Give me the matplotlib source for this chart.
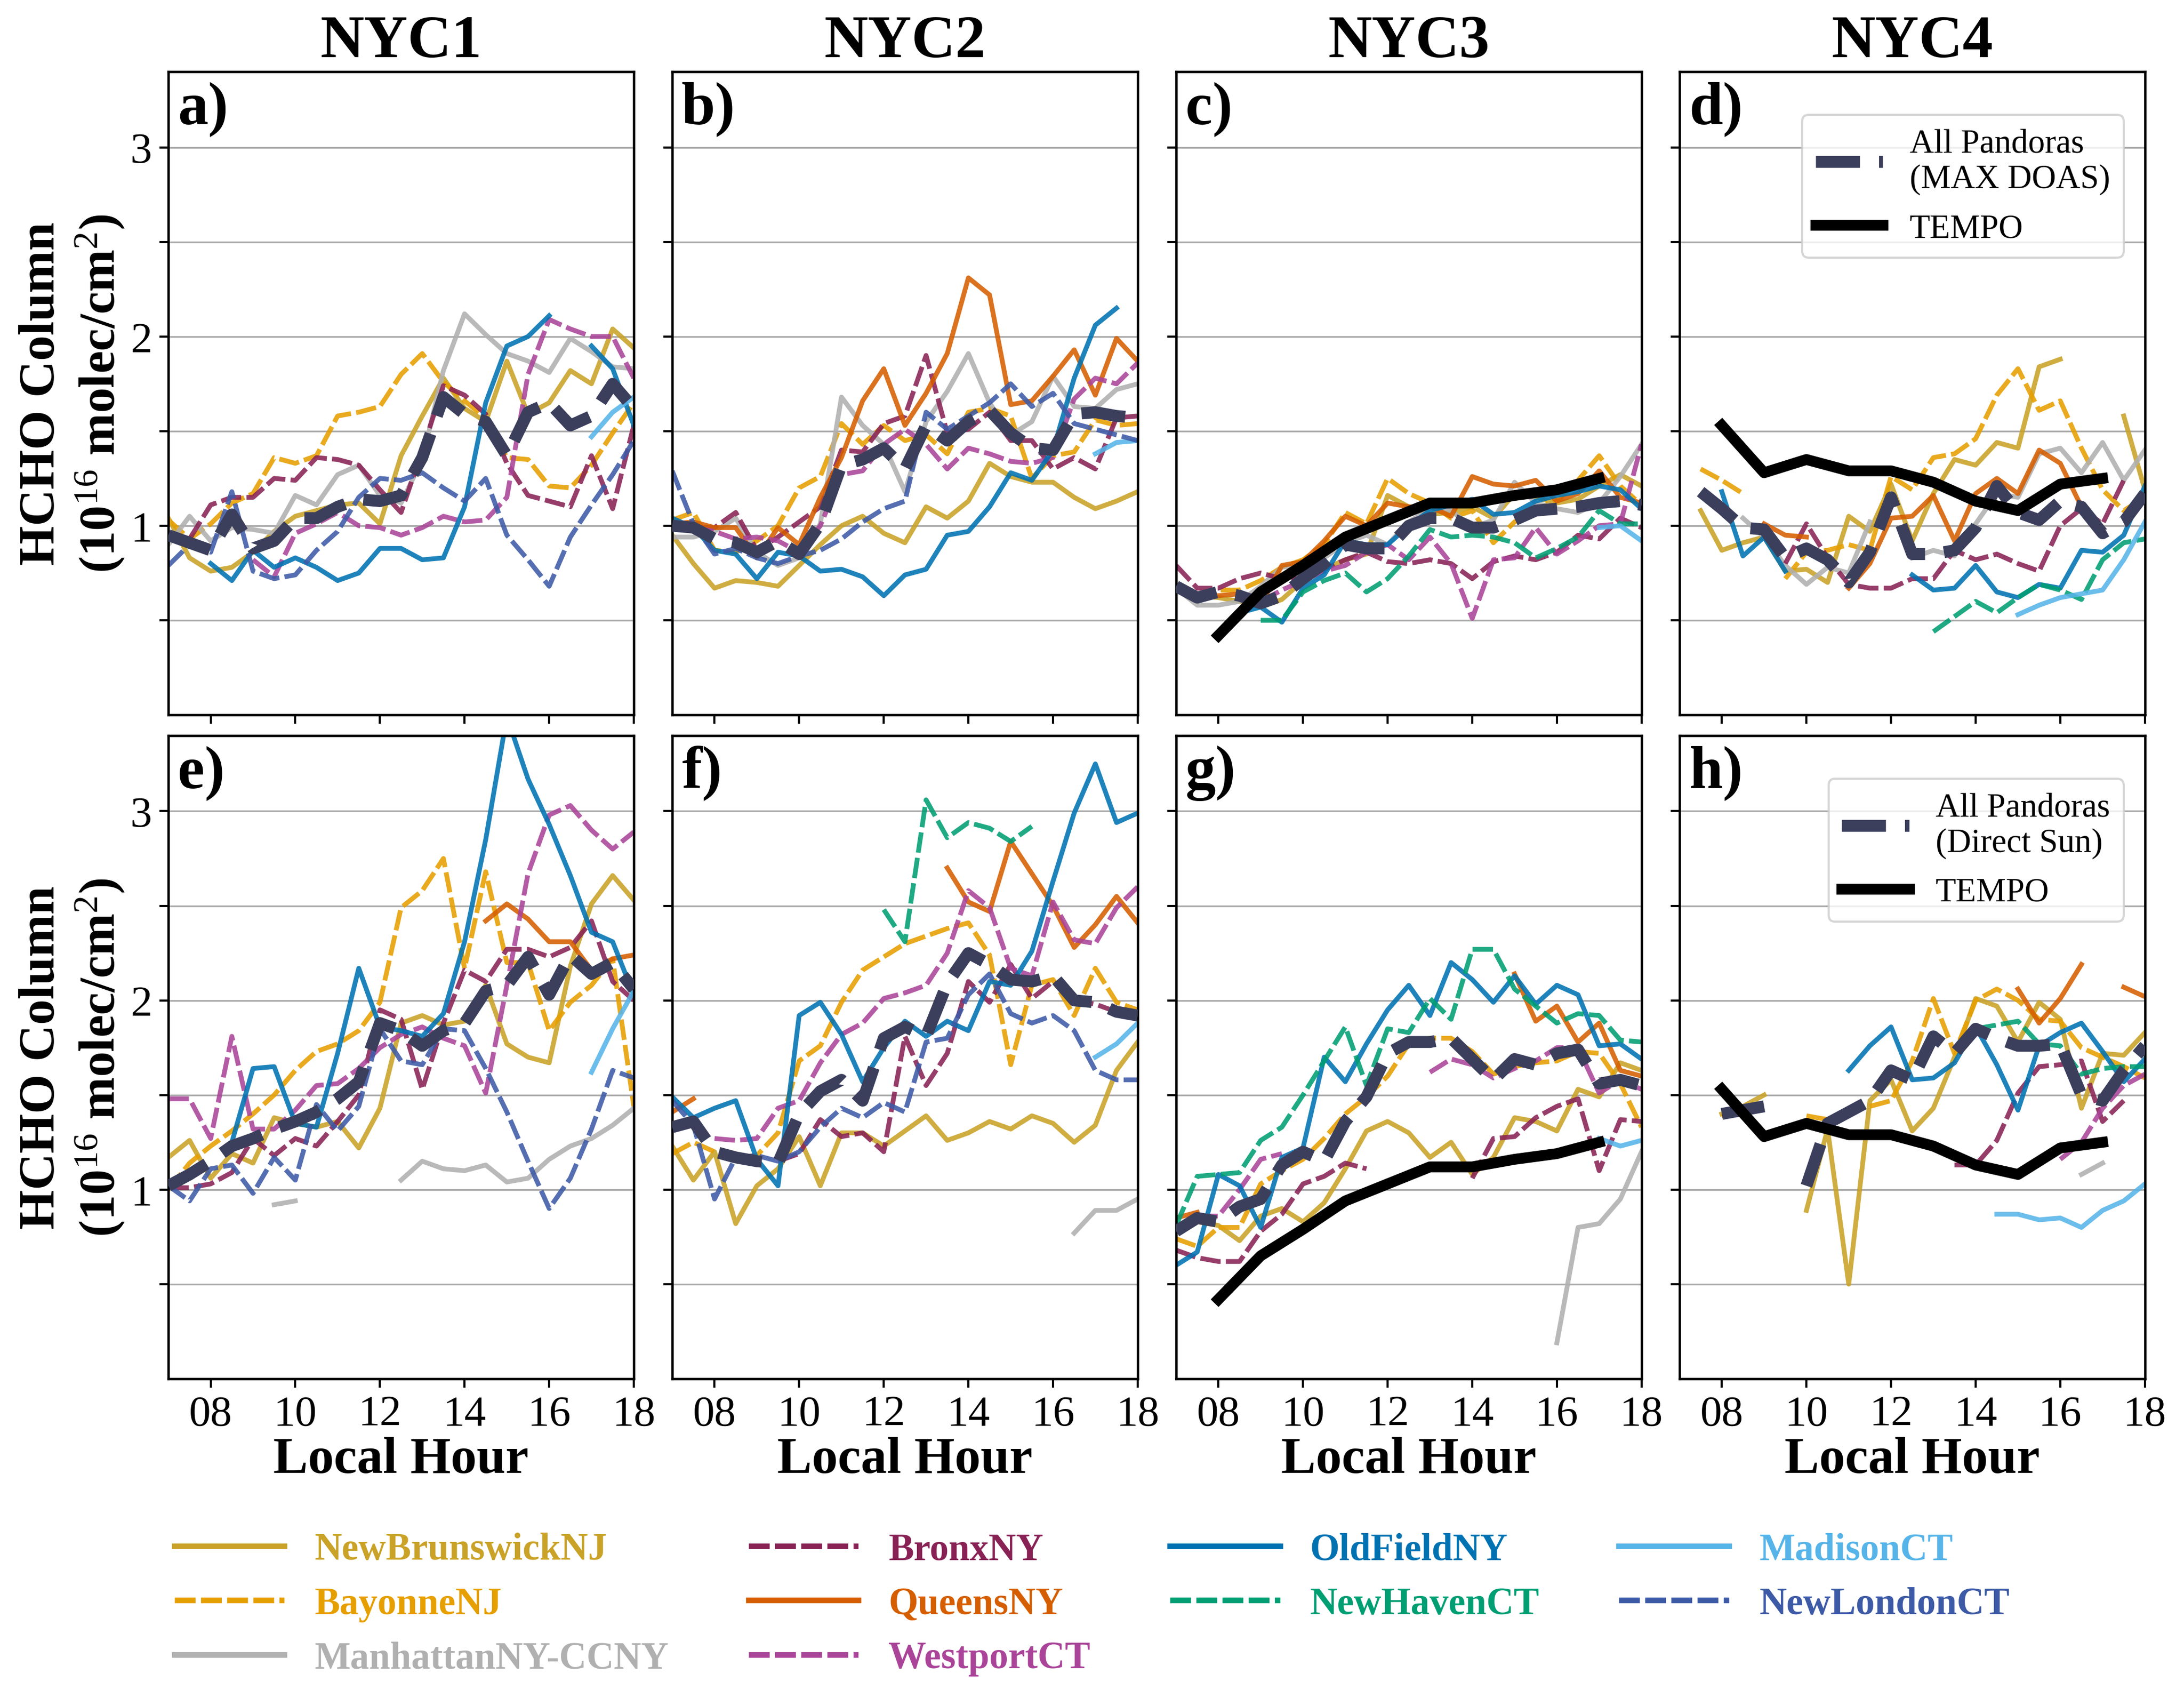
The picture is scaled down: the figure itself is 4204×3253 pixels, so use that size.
import numpy as np
import matplotlib
matplotlib.use('Agg')
import matplotlib.pyplot as plt
from matplotlib.lines import Line2D

plt.rcParams['font.family'] = 'serif'
plt.rcParams['font.serif'] = ['Liberation Serif', 'DejaVu Serif']
plt.rcParams['mathtext.fontset'] = 'custom'
plt.rcParams['mathtext.rm'] = 'Liberation Serif'
plt.rcParams['mathtext.it'] = 'Liberation Serif:italic'
plt.rcParams['mathtext.bf'] = 'Liberation Serif:bold'

N = np.nan
HOURS = [7.0, 7.5, 8.0, 8.5, 9.0, 9.5, 10.0, 10.5, 11.0, 11.5, 12.0, 12.5,
         13.0, 13.5, 14.0, 14.5, 15.0, 15.5, 16.0, 16.5, 17.0, 17.5, 18.0]
TEMPO_HOURS = [8, 9, 10, 11, 12, 13, 14, 15, 16, 17]
XTICKS = [8, 10, 12, 14, 16, 18]
XTICKLABELS = ['08', '10', '12', '14', '16', '18']
YTICKS = [0.5, 1.0, 1.5, 2.0, 2.5, 3.0]
YTICKLABELS = ['', '1', '', '2', '', '3']
REGIONS = ['NYC1', 'NYC2', 'NYC3', 'NYC4']
PANEL_LABELS = ['a)', 'b)', 'c)', 'd)', 'e)', 'f)', 'g)', 'h)']

STATIONS = ['NewBrunswickNJ', 'BayonneNJ', 'ManhattanNY-CCNY', 'BronxNY', 'QueensNY',
            'WestportCT', 'OldFieldNY', 'NewHavenCT', 'MadisonCT', 'NewLondonCT']
COLORS = ['#C9A227', '#E69F00', '#B0B0B0', '#882255', '#D55E00',
          '#AA4499', '#0072B2', '#009E73', '#56B4E9', '#3D5AA6']
DASHED = [False, True, False, True, False, True, False, True, False, True]

# ---------------- Panel a (NYC1, MAX-DOAS) ----------------
a_newbrunswick = [1.04, 0.83, 0.76, 0.78, 0.86, 0.97, 1.05, 1.08, 1.11, 1.12, 1.01, 1.37, 1.58, 1.78, 1.62, 1.55, 1.87, 1.59, 1.65, 1.82, 1.75, 2.04, 1.94]
a_bayonne = [1.03, 0.93, 1.01, 1.12, 1.17, 1.36, 1.33, 1.37, 1.58, 1.60, 1.63, 1.80, 1.91, 1.76, 1.66, 1.57, 1.36, 1.35, 1.21, 1.20, 1.32, 1.49, 1.65]
a_manhattan = [0.90, 1.05, 0.92, 0.99, 0.98, 0.96, 1.16, 1.11, 1.27, 1.32, 1.16, 1.12, 1.35, 1.82, 2.12, 2.01, 1.91, 1.87, 1.81, 1.99, 1.92, 1.84, 1.83]
a_bronx = [N, 0.93, 1.11, 1.15, 1.15, 1.25, 1.24, 1.36, 1.35, 1.32, 1.19, 1.07, 1.40, 1.74, 1.69, 1.59, 1.33, 1.16, 1.13, 1.10, 1.37, 1.09, 1.53]
a_queens = [N] * 23
a_westport = [N, N, N, N, 0.82, 0.73, 0.96, 1.01, 1.07, 1.00, 0.99, 0.95, 0.99, 1.05, 1.02, 1.03, 1.15, 1.80, 2.09, 2.04, 2.00, 2.00, 1.78]
a_oldfield = [N, N, 0.80, 0.71, 0.87, 0.78, 0.83, 0.78, 0.71, 0.75, 0.88, 0.88, 0.82, 0.83, 1.10, 1.65, 1.95, 2.00, 2.11, N, 1.95, 1.83, 1.53]
a_newhaven = [N] * 23
a_madison = [N] * 20 + [1.47, 1.60, 1.68]
a_newlondon = [0.79, 0.90, 0.86, 1.18, 0.76, 0.72, 0.74, 0.87, 0.97, 1.15, 1.25, 1.24, 1.28, 1.20, 1.13, 1.25, 0.95, 0.82, 0.68, 0.94, 1.11, 1.27, 1.45]
a_mean = [0.95, 0.91, 0.87, 1.06, 0.88, 0.92, 1.04, 1.04, 1.10, 1.14, 1.13, 1.16, 1.36, 1.68, 1.59, 1.55, 1.37, 1.60, 1.65, 1.53, 1.58, 1.75, 1.62]

# ---------------- Panel b (NYC2, MAX-DOAS) ----------------
b_newbrunswick = [0.95, 0.80, 0.67, 0.71, 0.70, 0.68, 0.79, 0.90, 1.00, 1.05, 0.96, 0.91, 1.10, 1.04, 1.13, 1.33, 1.26, 1.23, 1.23, 1.15, 1.09, 1.13, 1.18]
b_bayonne = [1.03, 1.07, 0.87, 0.86, 0.92, 1.00, 1.20, 1.26, 1.54, 1.43, 1.53, 1.45, 1.48, 1.38, 1.60, 1.62, 1.58, 1.25, 1.37, 1.39, 1.56, 1.53, 1.54]
b_manhattan = [0.94, 0.94, 0.97, 1.04, 0.86, 0.79, 0.83, 1.01, 1.68, 1.53, 1.43, 1.18, 1.55, 1.71, 1.91, 1.65, 1.48, 1.55, 1.79, 1.63, 1.62, 1.72, 1.75]
b_bronx = [1.00, 0.99, 0.99, 1.07, 0.87, 0.94, 1.02, 1.10, 1.40, 1.39, 1.54, 1.58, 1.90, 1.49, 1.51, 1.60, 1.45, 1.45, 1.30, 1.36, 1.30, 1.57, 1.58]
b_queens = [1.01, 1.02, 0.99, 0.99, 0.83, 0.99, 0.90, 1.15, 1.36, 1.66, 1.83, 1.53, 1.70, 1.91, 2.31, 2.22, 1.64, 1.66, 1.79, 1.93, 1.69, 1.99, 1.87]
b_westport = [N, 0.99, 0.97, 0.93, 0.94, 0.92, 0.86, 1.00, 1.27, 1.29, 1.43, 1.51, 1.43, 1.30, 1.41, 1.38, 1.34, 1.33, 1.36, 1.67, 1.78, 1.75, 1.86]
b_oldfield = [1.04, 0.99, 0.87, 0.85, 0.72, 0.86, 0.84, 0.76, 0.77, 0.73, 0.63, 0.74, 0.77, 0.95, 0.97, 1.10, 1.28, 1.24, 1.40, 1.78, 2.06, 2.15, N]
b_newhaven = [N] * 23
b_madison = [N] * 20 + [1.38, 1.44, 1.45]
b_newlondon = [1.29, 1.01, 0.85, 0.88, 0.83, 0.80, 0.84, 0.87, 0.93, 1.02, 1.09, 1.13, 1.60, 1.51, 1.58, 1.65, 1.75, 1.63, 1.70, 1.54, 1.51, 1.48, 1.45]
b_mean = [1.00, 0.99, 0.93, 0.91, 0.86, 0.92, 0.85, 1.01, 1.32, 1.35, 1.41, 1.30, 1.53, 1.45, 1.55, 1.61, 1.49, 1.41, 1.40, 1.59, 1.60, 1.58, 1.57]

# ---------------- Panel c (NYC3, MAX-DOAS) ----------------
c_newbrunswick = [0.67, 0.63, 0.62, 0.60, 0.57, 0.61, 0.71, 0.77, 0.82, 0.85, 1.16, 1.10, 1.06, 1.07, 1.10, 1.04, 1.17, 1.15, 1.12, 1.14, 1.21, 1.27, 1.21]
c_bayonne = [0.69, 0.61, 0.66, 0.66, 0.71, 0.78, 0.82, 0.90, 1.07, 1.01, 1.25, 1.17, 1.12, 1.04, 1.08, 0.91, 1.02, 1.09, 1.13, 1.24, 1.37, 1.21, 1.11]
c_manhattan = [0.67, 0.58, 0.58, 0.60, 0.68, 0.78, 0.80, 0.83, 0.91, 0.95, 0.90, 1.02, 1.09, 1.08, 0.99, 1.03, 1.23, 1.12, 1.09, 1.07, 1.12, 1.26, 1.43]
c_bronx = [0.79, 0.67, 0.67, 0.72, 0.75, 0.72, 0.72, 0.77, 0.82, 0.86, 0.81, 0.80, 0.82, 0.80, 0.72, 0.81, 0.84, 0.82, 0.86, 0.95, 0.93, 1.04, 0.99]
c_queens = [0.68, 0.62, 0.63, 0.64, 0.58, 0.79, 0.81, 0.92, 1.05, 1.00, 1.12, 1.10, 1.10, 1.05, 1.26, 1.22, 1.21, 1.24, 1.13, 1.17, 1.29, 1.15, 1.12]
c_westport = [N, N, N, N, 0.60, 0.66, 0.71, 0.76, 0.79, 0.86, 0.90, 0.82, 0.94, 0.80, 0.51, 0.82, 0.83, 0.99, 0.85, 0.92, 1.00, 1.01, 1.43]
c_oldfield = [N, N, N, 0.54, 0.57, 0.49, 0.67, 0.74, 0.92, 0.90, 0.90, 1.00, 1.08, 1.11, 1.14, 1.06, 1.07, 1.13, 1.16, 1.18, 1.21, 1.19, 1.09]
c_newhaven = [N, N, N, N, 0.50, 0.50, 0.65, 0.71, 0.75, 0.65, 0.72, 0.84, 0.98, 0.94, 0.95, 0.94, 0.91, 0.83, 0.88, 0.94, 1.08, 1.01, 1.01]
c_madison = [N] * 20 + [0.99, 1.00, 0.92]
c_newlondon = [N] * 23
c_mean = [0.68, 0.62, 0.65, 0.63, 0.59, 0.63, 0.72, 0.80, 0.90, 0.88, 0.88, 1.00, 1.04, 1.04, 0.99, 0.99, 1.03, 1.08, 1.09, 1.10, 1.12, 1.13, 1.11]

# ---------------- Panel d (NYC4, MAX-DOAS) ----------------
d_newbrunswick = [N, 1.08, 0.87, 0.91, 0.94, 0.76, 0.77, 0.70, 1.05, 0.97, 1.22, 0.92, 1.17, 1.35, 1.32, 1.44, 1.41, 1.84, 1.88, N, N, 1.58, 1.19]
d_bayonne = [N, 1.30, 1.24, 1.17, N, 0.72, 0.86, 0.87, 0.90, 0.87, 1.26, 1.19, 1.36, 1.38, 1.46, 1.69, 1.83, 1.61, 1.66, 1.41, 1.19, 1.08, 1.15]
d_manhattan = [N, N, N, 1.04, 0.94, 0.79, 0.69, 0.78, 0.75, 1.02, N, 0.83, 0.87, 0.84, 1.01, 1.17, 1.15, 1.38, 1.41, 1.28, 1.44, 1.24, 1.40]
d_bronx = [N, N, N, N, N, 0.80, 1.01, 0.83, 0.69, 0.67, 0.67, 0.72, 0.72, 0.87, 0.82, 0.85, 0.80, 0.76, 1.00, 1.09, 1.01, 1.24, N]
d_queens = [N, N, N, N, 1.01, 0.95, 0.94, N, 0.67, 0.80, 1.04, 1.05, 1.16, 0.92, 1.17, 1.25, 1.17, 1.40, 1.33, 1.10, N, N, N]
d_westport = [N] * 23
d_oldfield = [N, N, 1.18, 0.84, 0.94, 0.76, N, N, N, N, N, 0.74, 0.66, 0.67, 0.79, 0.65, 0.62, 0.69, 0.67, 0.87, 0.86, 0.95, 1.21]
d_newhaven = [N] * 12 + [0.44, 0.52, 0.60, 0.54, 0.62, 0.69, 0.66, 0.61, 0.82, 0.91, 0.93]
d_madison = [N] * 16 + [0.53, 0.58, 0.62, 0.64, 0.66, 0.82, 1.02]
d_newlondon = [N] * 23
d_mean = [N, 1.18, 1.09, 0.99, 0.98, 0.83, 0.88, 0.82, 0.70, 0.86, 1.15, 0.85, 0.85, 0.87, 0.99, 1.21, 1.07, 1.03, 1.13, 1.10, 0.96, 1.02, 1.17]

# ---------------- Panel e (NYC1, Direct Sun) ----------------
e_newbrunswick = [1.17, 1.26, 1.06, 1.19, 1.14, 1.38, 1.35, 1.33, 1.36, 1.22, 1.43, 1.88, 1.92, 1.87, 1.89, 2.08, 1.77, 1.70, 1.67, 2.18, 2.51, 2.66, 2.53]
e_bayonne = [1.00, 1.14, 1.23, 1.31, 1.40, 1.50, 1.63, 1.73, 1.77, 1.84, 1.99, 2.49, 2.58, 2.75, 2.17, 2.68, 2.20, 2.20, 1.84, 1.99, 2.08, 2.22, 1.44]
e_manhattan = [N, N, N, N, N, 0.92, 0.94, N, N, N, N, 1.05, 1.15, 1.11, 1.10, 1.13, 1.04, 1.06, 1.16, 1.23, 1.27, 1.34, 1.43]
e_bronx = [1.01, 1.01, 1.03, 1.09, 1.27, 1.18, 1.27, 1.23, 1.36, 1.50, 1.95, 1.90, 1.53, 1.88, 2.16, 2.10, 2.27, 2.27, 2.23, 2.28, 2.42, 2.10, 2.00]
e_queens = [N] * 15 + [2.42, 2.51, 2.43, 2.31, 2.31, 2.16, 2.22, 2.24]
e_westport = [1.48, 1.48, 1.27, 1.81, 1.32, 1.32, 1.42, 1.55, 1.56, 1.64, 1.75, 1.82, 1.86, 1.80, 1.76, 1.51, 2.08, 2.67, 2.98, 3.03, 2.90, 2.80, 2.89]
e_oldfield = [N, N, N, 1.25, 1.64, 1.65, 1.35, 1.33, 1.72, 2.17, 1.86, 1.84, 1.81, 1.93, 2.31, 2.85, 3.50, 3.17, 2.93, 2.66, 2.36, 2.31, 2.03]
e_newhaven = [N] * 23
e_madison = [N] * 20 + [1.62, 1.85, 2.05]
e_newlondon = [1.02, 0.94, 1.11, 1.13, 0.98, 1.17, 1.05, 1.45, 1.31, 1.44, 1.85, 1.68, 1.66, 1.85, 1.84, 1.64, 1.41, 1.15, 0.90, 1.06, 1.32, 1.63, 1.59]
e_mean = [1.02, 1.08, 1.15, 1.23, 1.27, 1.32, 1.36, 1.41, 1.48, 1.57, 1.88, 1.84, 1.76, 1.84, 1.88, 2.05, 2.08, 2.23, 2.03, 2.24, 2.14, 2.20, 2.06]

# ---------------- Panel f (NYC2, Direct Sun) ----------------
f_newbrunswick = [1.23, 1.05, 1.20, 0.82, 1.02, 1.11, 1.28, 1.02, 1.30, 1.30, 1.23, 1.31, 1.39, 1.26, 1.30, 1.36, 1.32, 1.39, 1.35, 1.25, 1.34, 1.63, 1.78]
f_bayonne = [1.19, 1.25, 1.20, 1.17, 1.18, 1.30, 1.68, 1.76, 1.99, 2.16, 2.23, 2.30, 2.34, 2.38, 2.41, 2.24, 1.66, 2.08, 2.11, 1.92, 2.17, 1.99, 1.95]
f_manhattan = [N] * 19 + [0.77, 0.89, 0.89, 0.95]
f_bronx = [N, N, N, N, N, 1.15, 1.19, 1.37, 1.28, 1.30, 1.20, 1.81, 1.55, 1.72, 2.10, 1.99, 2.19, 2.01, 2.10, 2.00, 1.98, 1.94, 1.91]
f_queens = [1.41, 1.48, N, N, N, N, N, N, N, N, N, N, N, 2.70, 2.52, 2.47, 2.84, 2.67, 2.50, 2.28, 2.40, 2.55, 2.41]
f_westport = [N, N, 1.27, 1.26, 1.27, 1.43, 1.47, 1.67, 1.82, 1.88, 2.01, 2.04, 2.08, 2.25, 2.58, 2.49, 2.17, 2.13, 2.52, 2.32, 2.30, 2.49, 2.60]
f_oldfield = [1.49, 1.38, 1.43, 1.47, 1.16, 1.02, 1.92, 1.99, 1.82, 1.57, 1.75, 1.89, 1.81, 1.89, 1.84, 2.10, 2.08, 2.26, 2.63, 2.99, 3.25, 2.94, 2.99]
f_newhaven = [N] * 10 + [2.48, 2.31, 3.06, 2.86, 2.94, 2.91, 2.84, 2.92] + [N] * 5
f_madison = [N] * 20 + [1.70, 1.77, 1.88]
f_newlondon = [1.47, 1.34, 0.95, 1.17, 1.18, 1.15, 1.20, 1.33, 1.43, 1.38, 1.46, 1.41, 1.78, 1.80, 2.03, 2.14, 1.93, 1.88, 1.92, 1.84, 1.63, 1.58, 1.58]
f_mean = [1.33, 1.36, 1.20, 1.17, 1.15, 1.14, 1.40, 1.52, 1.58, 1.47, 1.80, 1.86, 1.81, 2.09, 2.25, 2.19, 2.11, 2.10, 2.13, 2.00, 1.99, 1.94, 1.92]

# ---------------- Panel g (NYC3, Direct Sun) ----------------
g_newbrunswick = [0.81, 0.83, 0.81, 0.73, 0.86, 0.90, 0.83, 0.93, 1.11, 1.31, 1.36, 1.30, 1.17, 1.25, 1.08, 1.17, 1.38, 1.36, 1.31, 1.53, 1.49, 1.67, 1.63]
g_bayonne = [0.74, 0.70, 0.80, 0.80, 1.03, 1.10, 1.16, 1.27, 1.40, 1.49, 1.60, 1.77, 1.80, 1.80, 1.73, 1.61, 1.65, 1.67, 1.68, 1.73, 1.72, 1.56, 1.33]
g_manhattan = [N] * 18 + [0.19, 0.80, 0.82, 0.95, 1.20]
g_bronx = [0.68, 0.64, 0.62, 0.62, 0.78, 0.87, 1.03, 1.07, 1.14, 1.11, N, N, N, N, 1.06, 1.27, 1.28, 1.38, 1.44, 1.48, 1.10, 1.37, 1.36]
g_queens = [0.85, 0.88] + [N] * 14 + [2.14, 1.89, 1.97, 1.78, 1.88, 1.63, 1.60]
g_westport = [N, 0.86, 0.86, 1.00, 1.16, 1.19, N, N, N, N, N, N, 1.62, 1.69, 1.66, 1.59, 1.64, 1.68, 1.75, 1.75, 1.51, 1.58, 1.53]
g_oldfield = [0.60, 0.67, 1.08, 1.02, 0.80, 1.17, 1.22, 1.70, 1.57, 1.77, 1.95, 2.08, 1.92, 2.20, 2.11, 1.99, 2.13, 1.98, 2.08, 2.03, 1.76, 1.77, 1.69]
g_newhaven = [0.81, 1.07, 1.08, 1.09, 1.26, 1.33, 1.50, 1.68, 1.86, 1.55, 1.85, 1.83, 2.01, 1.90, 2.27, 2.27, 2.06, 1.97, 1.88, 1.93, 1.92, 1.79, 1.78]
g_madison = [N] * 20 + [1.27, 1.23, 1.26]
g_newlondon = [N] * 23
g_mean = [0.78, 0.85, 0.83, 0.91, 0.95, 1.13, 1.20, 1.15, 1.36, 1.49, 1.72, 1.78, 1.78, 1.80, 1.69, 1.58, 1.69, 1.66, 1.72, 1.74, 1.56, 1.58, 1.55]

# ---------------- Panel h (NYC4, Direct Sun) ----------------
h_newbrunswick = [N, N, 1.40, 1.44, 1.50, N, 0.89, 1.32, 0.50, 1.47, 1.58, 1.31, 1.43, 1.70, 2.01, 1.97, 1.78, 1.99, 1.90, 1.43, 1.72, 1.71, 1.83]
h_bayonne = [N, N, 1.39, 1.41, 1.43, N, 1.39, 1.37, N, 1.44, 1.47, 1.68, 2.01, 1.72, 2.00, 2.06, 2.00, 1.90, 1.89, 1.75, 1.70, 1.65, 1.59]
h_manhattan = [N] * 19 + [1.08, 1.14, N, N]
h_bronx = [N] * 13 + [1.13, 1.13, 1.26, 1.51, 1.65, 1.66, 1.68, 1.36, 1.47, N]
h_queens = [N] * 16 + [2.06, 1.88, 2.01, 2.19, N, 2.07, 2.02]
h_westport = [N] * 18 + [1.16, 1.25, 1.43, 1.55, 1.61]
h_oldfield = [N] * 8 + [1.63, 1.76, 1.86, 1.58, 1.59, 1.67, 1.86, 1.66, 1.42, 1.76, 1.83, 1.88, 1.73, 1.57, 1.69]
h_newhaven = [N] * 14 + [1.85, 1.87, 1.89, 1.77, 1.76, 1.61, 1.64, 1.65, 1.65]
h_madison = [N] * 15 + [0.87, 0.87, 0.84, 0.85, 0.80, 0.89, 0.94, 1.03]
h_newlondon = [N] * 23
h_mean = [N, N, 1.40, 1.42, 1.44, N, 1.02, 1.35, 1.41, 1.47, 1.63, 1.58, 1.81, 1.72, 1.85, 1.80, 1.76, 1.76, 1.77, 1.50, 1.47, 1.63, 1.76]

# ---------------- TEMPO ----------------
tempo_nyc3 = [0.42, 0.65, 0.79, 0.94, 1.03, 1.12, 1.12, 1.16, 1.19, 1.25]
tempo_nyc4 = [1.53, 1.28, 1.35, 1.29, 1.29, 1.23, 1.13, 1.08, 1.22, 1.25]

PANELS = [
    [a_newbrunswick, a_bayonne, a_manhattan, a_bronx, a_queens, a_westport, a_oldfield, a_newhaven, a_madison, a_newlondon],
    [b_newbrunswick, b_bayonne, b_manhattan, b_bronx, b_queens, b_westport, b_oldfield, b_newhaven, b_madison, b_newlondon],
    [c_newbrunswick, c_bayonne, c_manhattan, c_bronx, c_queens, c_westport, c_oldfield, c_newhaven, c_madison, c_newlondon],
    [d_newbrunswick, d_bayonne, d_manhattan, d_bronx, d_queens, d_westport, d_oldfield, d_newhaven, d_madison, d_newlondon],
    [e_newbrunswick, e_bayonne, e_manhattan, e_bronx, e_queens, e_westport, e_oldfield, e_newhaven, e_madison, e_newlondon],
    [f_newbrunswick, f_bayonne, f_manhattan, f_bronx, f_queens, f_westport, f_oldfield, f_newhaven, f_madison, f_newlondon],
    [g_newbrunswick, g_bayonne, g_manhattan, g_bronx, g_queens, g_westport, g_oldfield, g_newhaven, g_madison, g_newlondon],
    [h_newbrunswick, h_bayonne, h_manhattan, h_bronx, h_queens, h_westport, h_oldfield, h_newhaven, h_madison, h_newlondon],
]
MEANS = [a_mean, b_mean, c_mean, d_mean, e_mean, f_mean, g_mean, h_mean]
TEMPOS = [None, None, tempo_nyc3, tempo_nyc4, None, None, tempo_nyc3, tempo_nyc4]
MEAN_LABELS = ['All Pandoras\n(MAX DOAS)', 'All Pandoras\n(Direct Sun)']

MEAN_COLOR = '#3B3F5C'
LINE_DASH = (0, (4.3, 1.1))

fig = plt.figure(figsize=(4204 / 300, 3254 / 300), dpi=300)
lefts = [0.0771, 0.3078, 0.5385, 0.7690]
bottoms = [0.5768, 0.1841]
W, H = 0.2131, 0.3805

for p in range(8):
    row, col = divmod(p, 4)
    ax = fig.add_axes([lefts[col], bottoms[row], W, H])
    for s in range(len(STATIONS)):
        vals = np.array(PANELS[p][s], dtype=float)
        if np.all(np.isnan(vals)):
            continue
        ax.plot(HOURS, vals, color=COLORS[s], lw=2.2, alpha=0.88,
                ls=LINE_DASH if DASHED[s] else '-', zorder=2)
    mline, = ax.plot(HOURS, np.array(MEANS[p], dtype=float), color=MEAN_COLOR,
                     lw=5.5, ls='--', zorder=3, label=MEAN_LABELS[row])
    if TEMPOS[p] is not None:
        tline, = ax.plot(TEMPO_HOURS, TEMPOS[p], color='black', lw=5, zorder=4,
                         label='TEMPO')
    ax.set_xlim(7, 18)
    ax.set_ylim(0, 3.4)
    ax.set_xticks(XTICKS)
    ax.set_yticks(YTICKS)
    ax.yaxis.grid(True, color='#aaaaaa', lw=0.8)
    ax.set_axisbelow(True)
    for sp in ax.spines.values():
        sp.set_linewidth(1.1)
    ax.tick_params(axis='both', labelsize=20, width=1.0, length=4)
    if row == 1:
        ax.set_xticklabels(XTICKLABELS)
        ax.set_xlabel('Local Hour', fontsize=24, fontweight='bold', labelpad=1)
    else:
        ax.set_xticklabels([])
        ax.set_title(REGIONS[col], fontsize=28, fontweight='bold', pad=7)
    if col == 0:
        ax.set_yticklabels(YTICKLABELS)
        ax.set_ylabel('HCHO Column\n(10$^{16}$ molec/cm$^2$)', fontsize=23.5,
                      fontweight='bold', labelpad=2)
    else:
        ax.set_yticklabels([])
    ax.text(0.02, 0.985, PANEL_LABELS[p], transform=ax.transAxes, fontsize=28,
            fontweight='bold', va='top', ha='left')
    if col == 3:
        ax.legend(handles=[mline, tline], loc='upper right',
                  bbox_to_anchor=(0.954, 0.933), borderaxespad=0,
                  fontsize=15.5, handlelength=2.0, labelspacing=0.55,
                  framealpha=0.8)

handles = [Line2D([0], [0], color=COLORS[s], lw=2.6,
                  ls=(0, (3.7, 0.95)) if DASHED[s] else '-') for s in range(len(STATIONS))]
leg = fig.legend(handles, STATIONS, loc='upper center', bbox_to_anchor=(0.5, 0.1135),
                 ncol=4, frameon=False, prop={'weight': 'bold', 'size': 17.5},
                 handlelength=2.9, columnspacing=2.1, labelspacing=0.5)
for txt, c in zip(leg.get_texts(), COLORS):
    txt.set_color(c)

fig.savefig('out.png', dpi=300)
